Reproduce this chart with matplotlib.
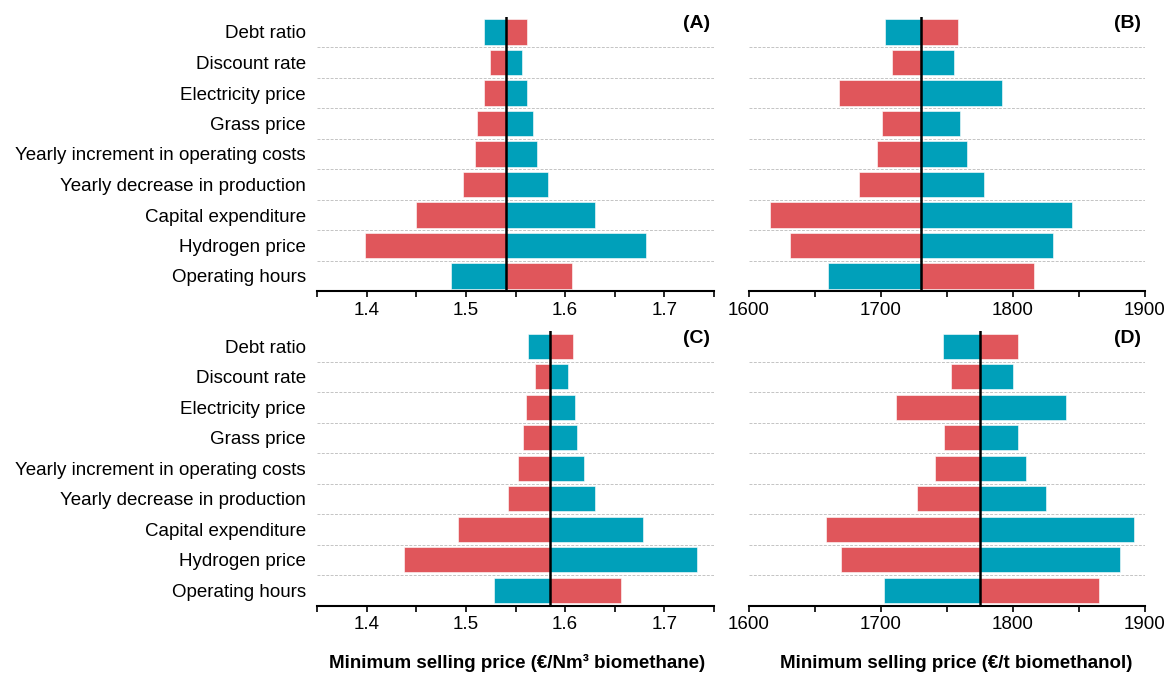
import matplotlib
matplotlib.use("Agg")
import matplotlib.pyplot as plt
from matplotlib.ticker import MultipleLocator

plt.rcParams["font.family"] = ["Liberation Sans", "DejaVu Sans"]

parameters = [
    "Debt ratio",
    "Discount rate",
    "Electricity price",
    "Grass price",
    "Yearly increment in operating costs",
    "Yearly decrease in production",
    "Capital expenditure",
    "Hydrogen price",
    "Operating hours",
]

# Base-case minimum selling prices
base_a = 1.540
base_b = 1730
base_c = 1.585
base_d = 1775

# Low-side (left) and high-side (right) results of each sensitivity
low_a = [1.518, 1.524, 1.518, 1.511, 1.509, 1.497, 1.450, 1.398, 1.485]
high_a = [1.562, 1.557, 1.562, 1.568, 1.572, 1.583, 1.630, 1.681, 1.607]
low_b = [1703, 1708, 1668, 1701, 1697, 1683, 1616, 1631, 1660]
high_b = [1758, 1755, 1792, 1760, 1765, 1778, 1845, 1830, 1816]
low_c = [1.563, 1.570, 1.561, 1.558, 1.553, 1.542, 1.492, 1.438, 1.528]
high_c = [1.608, 1.603, 1.610, 1.612, 1.619, 1.630, 1.678, 1.733, 1.656]
low_d = [1747, 1753, 1711, 1748, 1741, 1727, 1658, 1670, 1702]
high_d = [1804, 1800, 1840, 1804, 1810, 1825, 1892, 1881, 1865]

# Which side is red (True) for the low-side bar
low_is_red = [False, True, True, True, True, True, True, True, False]

xlabel_methane = "Minimum selling price (€/Nm³ biomethane)"
xlabel_methanol = "Minimum selling price (€/t biomethanol)"

RED = "#E0565B"
TEAL = "#00A0BA"

fig = plt.figure(figsize=(11.72, 6.74), dpi=100)
W, H = 1172, 674


def make_axes(x0, x1, y0, y1):
    return fig.add_axes([x0 / W, 1 - y1 / H, (x1 - x0) / W, (y1 - y0) / H])


panels = [
    (make_axes(317, 714, 16.75, 291.25), base_a, low_a, high_a, (1.35, 1.75), 0.1, "(A)", True),
    (make_axes(749, 1145, 16.75, 291.25), base_b, low_b, high_b, (1600, 1900), 100, "(B)", False),
    (make_axes(317, 714, 331, 605.5), base_c, low_c, high_c, (1.35, 1.75), 0.1, "(C)", True),
    (make_axes(749, 1145, 331, 605.5), base_d, low_d, high_d, (1600, 1900), 100, "(D)", False),
]

ypos = list(range(len(parameters)))

for ax, base, low, high, xlim, major, tag, show_labels in panels:
    for i in ypos:
        lc = RED if low_is_red[i] else TEAL
        hc = TEAL if low_is_red[i] else RED
        ax.barh(i, low[i] - base, left=base, height=0.83, color=lc,
                edgecolor="white", linewidth=0.4, zorder=2)
        ax.barh(i, high[i] - base, left=base, height=0.83, color=hc,
                edgecolor="white", linewidth=0.4, zorder=2)
    for g in range(len(parameters) - 1):
        ax.axhline(g + 0.5, color="#c4c4c4", linestyle=(0, (3, 1.5)),
                   linewidth=0.7, zorder=1)
    ax.axvline(base, color="black", linewidth=1.8, zorder=3)

    ax.set_xlim(*xlim)
    ax.set_ylim(len(parameters) - 0.5, -0.5)
    ax.xaxis.set_major_locator(MultipleLocator(major))
    ax.xaxis.set_minor_locator(MultipleLocator(major / 2))
    ax.tick_params(axis="x", which="both", direction="out", length=4.5,
                   width=1.2, labelsize=13.5, pad=3)
    ax.tick_params(axis="y", length=0, labelsize=13.5, pad=8)
    ax.set_yticks(ypos)
    if show_labels:
        ax.set_yticklabels(parameters)
    else:
        ax.set_yticklabels([])
    for s in ("top", "right", "left"):
        ax.spines[s].set_visible(False)
    ax.spines["bottom"].set_linewidth(1.5)
    ax.text(0.99, 1.005, tag, transform=ax.transAxes, ha="right", va="top",
            fontsize=14, fontweight="bold")

fig.text(517 / W, 1 - 663 / H, xlabel_methane, ha="center", va="center",
         fontsize=13.5, fontweight="bold")
fig.text(956 / W, 1 - 663 / H, xlabel_methanol, ha="center", va="center",
         fontsize=13.5, fontweight="bold")

fig.savefig("out.png", dpi=100, facecolor="white")
